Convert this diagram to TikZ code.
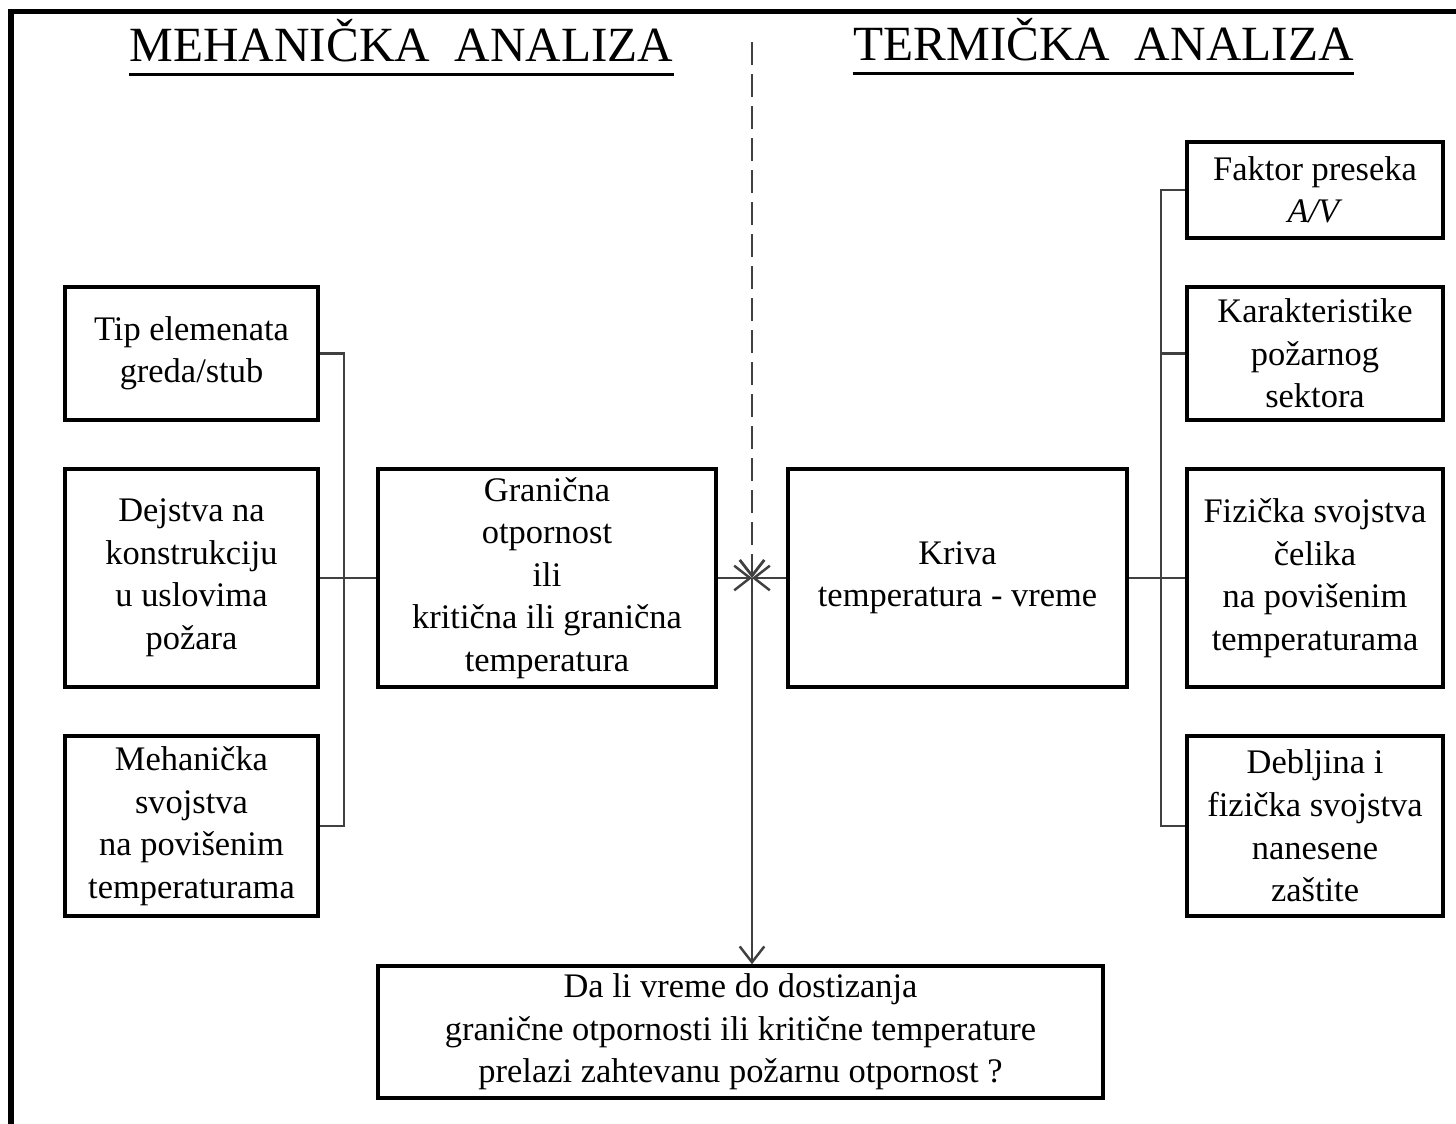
\documentclass[tikz,border=0pt]{standalone}
\usepackage{fontspec}
\setmainfont{Liberation Serif}
\usetikzlibrary{arrows.meta}
\tikzset{
  box/.style={
    draw,
    line width=1pt,
    align=center,
    inner sep=0pt,
    font=\fontsize{9.8}{12.1}\selectfont},
  link/.style={
    draw=black!75,
    line width=0.7pt},
  title/.style={
    anchor=base,
    inner sep=0pt,
    font=\fontsize{14}{16}\selectfont}
}

\begin{document}
\begin{tikzpicture}[>={Straight Barb[length=4.5pt,width=7pt]}]
  \useasboundingbox (0,0) rectangle (14.56,-11.24);

  % frame
  \draw[line width=1.5pt] (0.11,-11.24) -- (0.11,-0.118) -- (14.56,-0.118);

  % titles
  \node (mtitle) [title] at (4.015,-0.62) {MEHANIČKA\ \ ANALIZA};
  \draw[line width=1pt] ([yshift=-3.5pt]mtitle.base west) -- ([yshift=-3.5pt]mtitle.base east);
  \node (ttitle) [title] at (11.035,-0.61) {TERMIČKA\ \ ANALIZA};
  \draw[line width=1pt] ([yshift=-3.5pt]ttitle.base west) -- ([yshift=-3.5pt]ttitle.base east);

  % Left column
  \node (tip) [box, minimum width=2.53cm, minimum height=1.33cm] at (1.915,-3.535) {Tip elemenata\\greda/stub};
  \node (dej) [box, minimum width=2.53cm, minimum height=2.18cm] at (1.915,-5.78) {Dejstva na\\konstrukciju\\u uslovima\\požara};
  \node (meh) [box, minimum width=2.53cm, minimum height=1.80cm] at (1.915,-8.26) {Mehanička\\svojstva\\na povišenim\\temperaturama};

  \node (gran) [box, minimum width=3.38cm, minimum height=2.18cm] at (5.47,-5.78) {Granična\\otpornost\\ili\\kritična ili granična\\temperatura};
  \node (kriva) [box, minimum width=3.39cm, minimum height=2.18cm] at (9.575,-5.78) {Kriva\\temperatura - vreme};

  % Right column
  \node (fakt) [box, minimum width=2.56cm, minimum height=0.96cm] at (13.15,-1.90) {Faktor preseka\\\textit{A/V}};
  \node (kar) [box, minimum width=2.56cm, minimum height=1.33cm] at (13.15,-3.535) {Karakteristike\\požarnog\\sektora};
  \node (fiz) [box, minimum width=2.56cm, minimum height=2.18cm] at (13.15,-5.78) {Fizička svojstva\\čelika\\na povišenim\\temperaturama};
  \node (debl) [box, minimum width=2.56cm, minimum height=1.80cm] at (13.15,-8.26) {Debljina i\\fizička svojstva\\nanesene\\zaštite};

  % question
  \node (pit) [box, minimum width=7.25cm, minimum height=1.32cm] at (7.405,-10.32) {Da li vreme do dostizanja\\granične otpornosti ili kritične temperature\\prelazi zahtevanu požarnu otpornost ?};

  % brackets
  \draw[link] (tip.east) -- ++(0.24,0) |- (meh.east);
  \draw[link] (dej.east) -- (gran.west);
  \draw[link] (fakt.west) -- ++(-0.24,0) |- (debl.west);
  \draw[link] (kar.west) -- ++(-0.24,0);
  \draw[link] (kriva.east) -- (fiz.west);

  % centre
  \coordinate (mid) at (7.52,-5.78);
  \coordinate (dtop) at (7.52,-0.42);
  \draw[link, ->] (gran.east) -- (mid);
  \draw[link, ->] (kriva.west) -- (mid);
  \draw[link, ->, line width=0.8pt, dash pattern=on 6.5pt off 2.6pt] (dtop) -- (mid);
  \draw[link, ->] (mid) -- (mid |- pit.north);
\end{tikzpicture}
\end{document}
